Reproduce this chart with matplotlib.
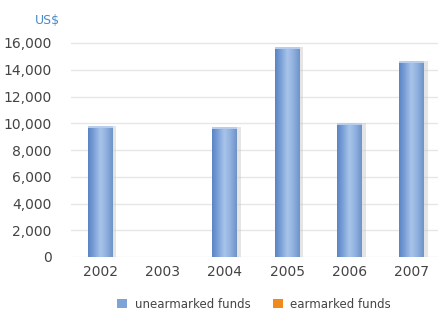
import matplotlib
matplotlib.use("Agg")
import matplotlib.pyplot as plt
import numpy as np
from matplotlib.colors import LinearSegmentedColormap
from matplotlib.patches import Patch

years = ["2002", "2003", "2004", "2005", "2006", "2007"]
unearmarked = [9800, 0, 9700, 15700, 10050, 14650]
earmarked = [0, 0, 0, 0, 0, 0]
yticks = [0, 2000, 4000, 6000, 8000, 10000, 12000, 14000, 16000]

fig = plt.figure(figsize=(4.38, 3.11), dpi=100)
ax = fig.add_axes([71/438, 1 - 257/311, (438 - 71)/438, (257 - 43)/311 * 16500/16000])

x = np.arange(len(years))
width = 0.4
cmap = LinearSegmentedColormap.from_list("cyl", ["#5a84c4", "#7ea3d8", "#a9c4ea", "#8fb0de", "#6f93c9"])
grad = np.linspace(0, 1, 64).reshape(1, -1)

bars = ax.bar(x, unearmarked, width, color="#7ea3d8", zorder=3, label="unearmarked funds")
for b, v in zip(bars, unearmarked):
    if v <= 0:
        continue
    x0 = b.get_x()
    ax.bar(x0 + b.get_width() + 0.03, v, 0.06, color="#cccccc", alpha=0.5, zorder=2, align="center", linewidth=0)
    im = ax.imshow(grad, cmap=cmap, aspect="auto", extent=[x0, x0 + b.get_width(), 0, v], zorder=4)
    im.set_clip_path(b)
    ax.bar(b.get_x() + b.get_width()/2, 150, b.get_width(), bottom=v - 150, color="#b8cdec", zorder=5, linewidth=0)

ax.bar(x, earmarked, width, bottom=unearmarked, color="#f08a1c", zorder=3, label="earmarked funds")

ax.set_xlim(-0.47, 5.42)
ax.set_ylim(0, 16500)
ax.set_yticks(yticks)
ax.set_yticklabels([f"{v:,}" for v in yticks])
ax.set_xticks(x)
ax.set_xticklabels(years)
ax.tick_params(axis="both", length=0, labelsize=10, labelcolor="#444444")
ax.tick_params(axis="y", pad=14)
ax.tick_params(axis="x", pad=6)
ax.grid(axis="y", color="#e6e6e6", linewidth=1.0, zorder=0)
for s in ax.spines.values():
    s.set_visible(False)

fig.text(60/438, 1 - 20/311, "US$", color="#4a8ac8", fontsize=9, ha="right", va="center")

handles = [Patch(facecolor="#7ea3d8", edgecolor="none"), Patch(facecolor="#f08a1c", edgecolor="none")]
fig.legend(handles, ["unearmarked funds", "earmarked funds"], loc="center", bbox_to_anchor=(254/438, 1 - 304/311),
           ncol=2, frameon=False, fontsize=8.5, handlelength=0.9, handleheight=0.9, columnspacing=1.9,
           handletextpad=0.6, labelcolor="#444444")

fig.savefig("out.png", dpi=100)
